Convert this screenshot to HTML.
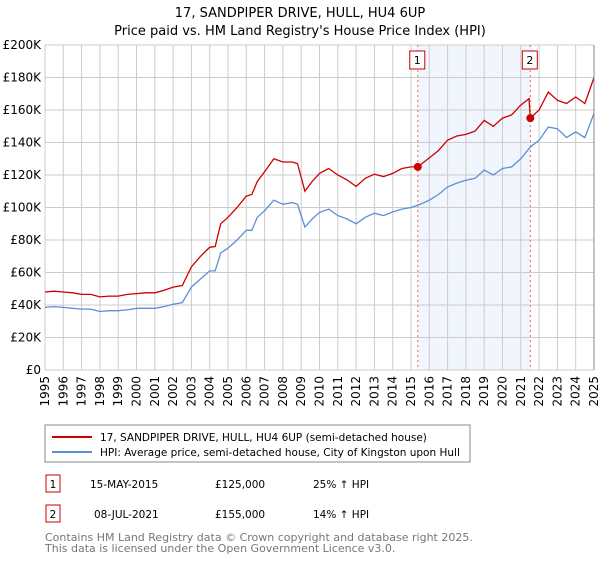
<!DOCTYPE html>
<html><head><meta charset="utf-8"><style>
body{margin:0;background:#fff;font-family:"Liberation Sans","DejaVu Sans",sans-serif}
svg text{font-family:"DejaVu Sans","Liberation Sans",sans-serif}
</style></head><body>
<svg id="c" width="600" height="560" viewBox="0 0 600 560" xmlns="http://www.w3.org/2000/svg">
<text x="300" y="17" text-anchor="middle" font-size="13" fill="#000">17, SANDPIPER DRIVE, HULL, HU4 6UP</text>
<text x="300" y="35" text-anchor="middle" font-size="13" fill="#000">Price paid vs. HM Land Registry's House Price Index (HPI)</text>
<g id="grid"></g><g id="marks"></g>
<rect x="45" y="425" width="425" height="37" fill="none" stroke="#888"/>
<line x1="52" y1="437" x2="92" y2="437" stroke="#cc0000" stroke-width="2"/>
<text x="100" y="441" font-size="10.5">17, SANDPIPER DRIVE, HULL, HU4 6UP (semi-detached house)</text>
<line x1="52" y1="452" x2="92" y2="452" stroke="#5b8fd4" stroke-width="2"/>
<text x="100" y="456" font-size="10.5">HPI: Average price, semi-detached house, City of Kingston upon Hull</text>
<g>
<rect x="46" y="475" width="14" height="17" fill="#fff" stroke="#cc0000"/><text x="53" y="488" font-size="10.5" text-anchor="middle">1</text>
<text x="90" y="488" font-size="10.5">15-MAY-2015</text><text x="215" y="488" font-size="10.5">£125,000</text><text x="313" y="488" font-size="10.5">25% ↑ HPI</text></g>
<g>
<rect x="46" y="505" width="14" height="17" fill="#fff" stroke="#cc0000"/><text x="53" y="518" font-size="10.5" text-anchor="middle">2</text>
<text x="94" y="518" font-size="10.5">08-JUL-2021</text><text x="215" y="518" font-size="10.5">£155,000</text><text x="313" y="518" font-size="10.5">14% ↑ HPI</text></g>
<text x="45" y="541" font-size="11" fill="#777">Contains HM Land Registry data © Crown copyright and database right 2025.</text>
<text x="45" y="552" font-size="11" fill="#777">This data is licensed under the Open Government Licence v3.0.</text>
</svg>
<script>
const hpiYears=[1995,1995.5,1996,1996.5,1997,1997.5,1998,1998.5,1999,1999.5,2000,2000.5,2001,2001.5,2002,2002.5,2003,2003.5,2004,2004.3,2004.6,2005,2005.5,2006,2006.3,2006.6,2007,2007.5,2008,2008.5,2008.8,2009.2,2009.6,2010,2010.5,2011,2011.5,2012,2012.5,2013,2013.5,2014,2014.5,2015,2015.5,2016,2016.5,2017,2017.5,2018,2018.5,2019,2019.5,2020,2020.5,2021,2021.5,2022,2022.5,2023,2023.5,2024,2024.5,2025];
const hpiValues=[38.5,39,38.5,38,37.5,37.5,36,36.5,36.5,37,38,38,38,39,40.5,41.5,51,56,61,61,72,75,80,86,86,94,98,104.5,102,103,102,88,93,97,99,95,93,90,94,96.5,95,97.3,99,100,102,104.5,108,112.7,115,116.8,118,123,120,124,125,130,137,141.4,149.5,148.5,143,146.5,143,158];
const redYears=[1995,1995.5,1996,1996.5,1997,1997.5,1998,1998.5,1999,1999.5,2000,2000.5,2001,2001.5,2002,2002.5,2003,2003.5,2004,2004.3,2004.6,2005,2005.5,2006,2006.3,2006.6,2007,2007.5,2008,2008.5,2008.8,2009.2,2009.6,2010,2010.5,2011,2011.5,2012,2012.5,2013,2013.5,2014,2014.5,2015,2015.37,2016,2016.5,2017,2017.5,2018,2018.5,2019,2019.5,2020,2020.5,2021,2021.45,2021.52,2022,2022.5,2023,2023.5,2024,2024.5,2025];
const redValues=[48,48.5,48,47.5,46.5,46.5,45,45.5,45.5,46.5,47,47.5,47.5,49,51,52,63.5,70,75.5,76,90,94,100,107,108,116,122,130,128,128,127,110,116,121,124,120,117,113,118,120.5,119,121,124,125,125,130.5,135,141.5,144,145,147,153.6,150,155,157,163,167,155,160,171,166,164,168,164,180];
const sales=[{x:2015.37,y:125,label:"1"},{x:2021.52,y:155,label:"2"}];
const yTicks=[0,20,40,60,80,100,120,140,160,180,200];
const yTickLabels=["£0","£20K","£40K","£60K","£80K","£100K","£120K","£140K","£160K","£180K","£200K"];
const xTicks=[1995,1996,1997,1998,1999,2000,2001,2002,2003,2004,2005,2006,2007,2008,2009,2010,2011,2012,2013,2014,2015,2016,2017,2018,2019,2020,2021,2022,2023,2024,2025];
const X0=45,X1=594,Y0=370,Y1=45;
const sx=v=>X0+(v-1995)/30*(X1-X0), sy=v=>Y0-(v/200)*(Y0-Y1);
const NS="http://www.w3.org/2000/svg";
const grid=document.getElementById('grid'),marks=document.getElementById('marks');
function mk(tag,at,p){const e=document.createElementNS(NS,tag);for(const k in at)e.setAttribute(k,at[k]);p.appendChild(e);return e;}
let sh=mk('rect',{x:sx(sales[0].x),y:Y1,width:sx(sales[1].x)-sx(sales[0].x),height:Y0-Y1,fill:'#eef3fc',opacity:0.8},grid);


yTicks.forEach((t,i)=>{
 let l=mk('line',{x1:X0,x2:X1,y1:sy(t),y2:sy(t),stroke:'#ccc'},grid);
 
 
 let tx=mk('text',{x:X0-4,y:sy(t)+4,'text-anchor':'end','font-size':12},grid);tx.textContent=yTickLabels[i];
 
 
});
xTicks.forEach(t=>{
 let l=mk('line',{x1:sx(t),x2:sx(t),y1:Y1,y2:Y0,stroke:'#ccc'},grid);
 
 
 let tx=mk('text',{x:0,y:0,'text-anchor':'end','font-size':12,transform:`translate(${sx(t)+4},${Y0+6}) rotate(-90)`},grid);tx.textContent=t;
 
 
});
sales.forEach(s=>{
 let l=mk('line',{x1:sx(s.x),x2:sx(s.x),y1:Y1,y2:Y0,stroke:'#e66','stroke-dasharray':'2,3'},marks);
 
 
 let b=mk('rect',{x:sx(s.x)-8,y:51,width:15,height:18,fill:'#fff',stroke:'#cc0000'},marks);
 
 
 let t=mk('text',{x:sx(s.x)-0.5,y:64,'text-anchor':'middle','font-size':11},marks);t.textContent=s.label;
 
 
});
function path(xs,ys,col,name){
 let d=xs.map((x,i)=>(i?'L':'M')+sx(x).toFixed(1)+','+sy(ys[i]).toFixed(1)).join('');
 let p=mk('path',{d:d,fill:'none',stroke:col,'stroke-width':1.3},marks);
 
 
}
path(hpiYears,hpiValues,'#5b8fd4','hpi-line');
path(redYears,redValues,'#cc0000','property-price-line');
sales.forEach(s=>{
 let c=mk('circle',{cx:sx(s.x),cy:sy(s.y),r:4,fill:'#cc0000'},marks);
 
 
});
let ax=mk('line',{x1:X1,x2:X1,y1:Y1,y2:Y0,stroke:'#888'},marks);


</script>
</body></html>
